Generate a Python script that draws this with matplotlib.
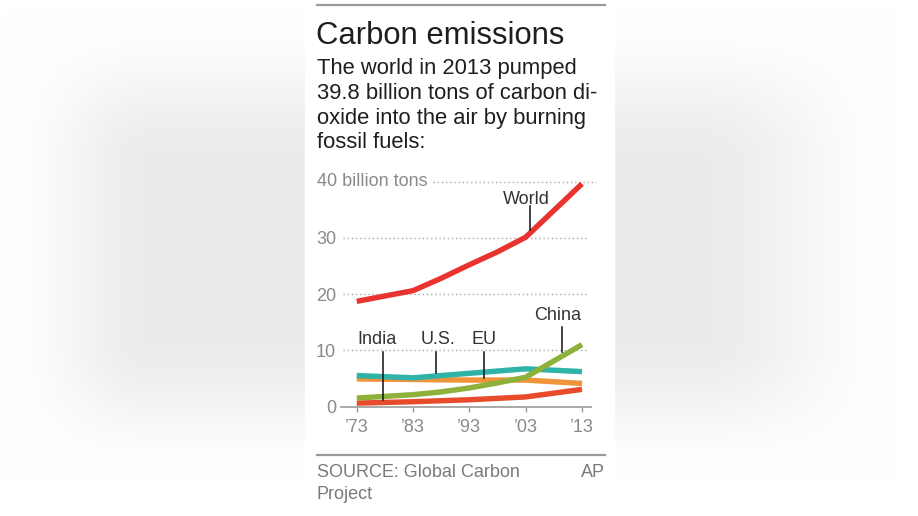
import numpy as np
import matplotlib
matplotlib.use("Agg")
import matplotlib.pyplot as plt
from matplotlib.patches import Rectangle
from matplotlib.lines import Line2D

plt.rcParams['font.family'] = ['Liberation Sans', 'DejaVu Sans']

# data (billion tons of CO2)
world_years = [1973, 1983, 1988, 1993, 1998, 2003, 2013]
world = [18.7, 20.6, 22.8, 25.2, 27.5, 30.1, 39.6]
china_years = [1973, 1983, 1988, 1993, 1998, 2003, 2013]
china = [1.5, 2.1, 2.6, 3.3, 4.2, 5.2, 11.0]
years = [1973, 1983, 1993, 2003, 2013]
us = [5.5, 5.1, 5.9, 6.7, 6.2]
eu = [4.9, 4.8, 4.7, 4.7, 4.1]
india = [0.6, 0.85, 1.2, 1.7, 3.05]

xtick_labels = ['\u201973', '\u201983', '\u201993', '\u201903', '\u201913']
yticks = [0, 10, 20, 30]

W, H = 918, 516
fig = plt.figure(figsize=(W / 100, H / 100), dpi=100)


def fx(x):
    return x / W


def fy(y):
    return 1 - y / H


# blurred grey background with a white panel
def smooth(t):
    t = np.clip(t, 0, 1)
    return t * t * (3 - 2 * t)

xx, yy = np.meshgrid(np.arange(W), np.arange(H))
hx = np.where(xx < 460, smooth(xx / 150.0), smooth((900 - xx) / 200.0))
vy = smooth((yy - 10) / 150.0) * smooth((480 - yy) / 140.0)
shade = 1 - 0.075 * hx * vy
bg = fig.add_axes([0, 0, 1, 1])
bg.imshow(np.dstack([shade] * 3), aspect='auto', extent=[0, W, H, 0], vmin=0, vmax=1)
bg.add_patch(Rectangle((305, 0), 309, H, color='white'))
bg.set_xlim(0, W)
bg.set_ylim(H, 0)
bg.axis('off')

# rules
for ry in (5, 455):
    fig.add_artist(Line2D([fx(317), fx(605)], [fy(ry), fy(ry)], color='#9a9a9a', lw=1.6))

fig.text(fx(316), fy(43.5), 'Carbon emissions', fontsize=22.3, color='#1e1e1e', va='baseline')
sub = ['The world in 2013 pumped', '39.8 billion tons of carbon di-',
       'oxide into the air by burning', 'fossil fuels:']
for i, line in enumerate(sub):
    fig.text(fx(317), fy(74 + 24.8 * i), line, fontsize=15.8, color='#1e1e1e', va='baseline')

fig.text(fx(317), fy(477), 'SOURCE: Global Carbon', fontsize=13, color='#7a7a7a', va='baseline')
fig.text(fx(317), fy(499), 'Project', fontsize=13, color='#7a7a7a', va='baseline')
fig.text(fx(605), fy(477), 'AP', fontsize=13, color='#7a7a7a', va='baseline', ha='right')

# chart axes
left, right, bottom, top = 341, 591, 406.5, 175.9
ax = fig.add_axes([fx(left), fy(bottom), (right - left) / W, (bottom - top) / H])
ax.set_facecolor('none')
ax.set_xlim(1970.2, 2014.6)
ax.set_ylim(0, 41)

for v in (10, 20, 30):
    ax.axhline(v, xmin=0.008, xmax=0.988, color='#a8a8a8', lw=1, ls=(0, (1, 2)))
ax.axhline(40, xmin=(433 - left) / (right - left), xmax=(596 - left) / (right - left),
           color='#a8a8a8', lw=1, ls=(0, (1, 2)), clip_on=False)

ax.plot(years, india, color='#e84b2c', lw=3.9, solid_capstyle='butt')
ax.plot(years, eu, color='#f0943a', lw=3.9, solid_capstyle='butt')
ax.plot(years, us, color='#2fb2a8', lw=3.9, solid_capstyle='butt')
ax.plot(china_years, china, color='#8db13a', lw=3.9, solid_capstyle='butt')
ax.plot(world_years, world, color='#e8332f', lw=3.9, solid_capstyle='butt')

# series labels with leader lines: (text, label x, label baseline, line x, line top, line bottom)
labels = [
    ('World', 2003.2, 36.0, 2003.8, 35.6, 31.4),
    ('China', 2008.6, 15.4, 2009.4, 14.2, 9.7),
    ('India', 1976.6, 11.05, 1977.6, 9.7, 1.2),
    ('U.S.', 1987.4, 11.05, 1987.0, 9.7, 6.0),
    ('EU', 1995.6, 11.05, 1995.6, 9.7, 5.1),
]
for name, tx, ty, lx, l0, l1 in labels:
    ax.text(tx, ty, name, fontsize=13, color='#333333', ha='center', va='baseline')
    ax.plot([lx, lx], [l0, l1], color='#111111', lw=1.1)

ax.set_xticks(years)
ax.set_xticklabels(xtick_labels)
ax.set_yticks(yticks)
ax.set_yticklabels([str(v) for v in yticks])
ax.tick_params(axis='x', length=3.6, width=1, color='#999999', labelsize=13,
               labelcolor='#8a8a8a', pad=5.5)
ax.tick_params(axis='y', length=0, labelsize=13, labelcolor='#8a8a8a', pad=3.6)
for s in ('top', 'right', 'left'):
    ax.spines[s].set_visible(False)
ax.spines['bottom'].set_color('#999999')
ax.spines['bottom'].set_linewidth(1.2)

fig.text(fx(317), fy(186.5), '40 billion tons', fontsize=13, color='#8a8a8a', va='baseline')

fig.savefig('out.png', dpi=100)
